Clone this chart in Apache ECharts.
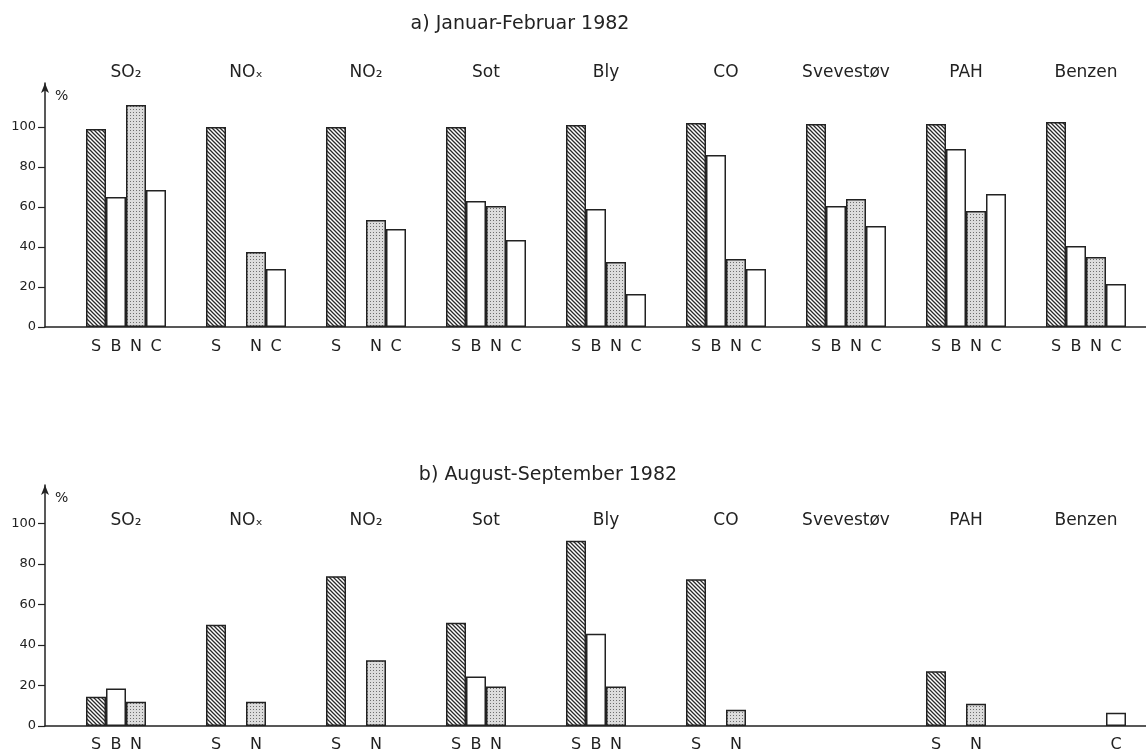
<!DOCTYPE html>
<html><head><meta charset="utf-8">
<script src="https://cdn.jsdelivr.net/npm/echarts@6/dist/echarts.min.js"></script>
<style>html,body{margin:0;padding:0;background:#fff}#c{width:1146px;height:751px}</style>
</head><body><div id="c"></div>
<script>
// ---- data ----
const categories = ['SO₂', 'NOₓ', 'NO₂', 'Sot', 'Bly', 'CO', 'Svevestøv', 'PAH', 'Benzen'];
const letters = ['S', 'B', 'N', 'C'];
const yTicks = [0, 20, 40, 60, 80, 100];
const titleA = 'a) Januar-Februar 1982';
const titleB = 'b) August-September 1982';

// a) Januar-Februar 1982
const aS = [99, 100, 100, 100, 101, 102, 101.5, 101.5, 102.5];
const aB = [65, null, null, 63, 59, 86, 60.5, 89, 40.5];
const aN = [111, 37.5, 53.5, 60.5, 32.5, 34, 64, 58, 35];
const aC = [68.5, 29, 49, 43.5, 16.5, 29, 50.5, 66.5, 21.5];

// b) August-September 1982
const bS = [14.5, 50, 74, 51, 91.5, 72.5, null, 27, null];
const bB = [18.5, null, null, 24.5, 45.5, null, null, null, null];
const bN = [12, 12, 32.5, 19.5, 19.5, 8, null, 11, null];
const bC = [null, null, null, null, null, null, null, null, 6.5];

// ---- patterns ----
function hatchPattern() {
  const c = document.createElement('canvas'); c.width = 4; c.height = 4;
  const g = c.getContext('2d');
  g.fillStyle = '#fff'; g.fillRect(0, 0, 4, 4);
  g.strokeStyle = '#2a2a2a'; g.lineWidth = 1.3;
  g.beginPath();
  g.moveTo(-1, -1); g.lineTo(5, 5);
  g.moveTo(-1, 3); g.lineTo(1, 5);
  g.moveTo(3, -1); g.lineTo(5, 1);
  g.stroke();
  return c;
}
function dotPattern() {
  const c = document.createElement('canvas'); c.width = 3; c.height = 3;
  const g = c.getContext('2d');
  g.fillStyle = '#dcdcdc'; g.fillRect(0, 0, 3, 3);
  g.fillStyle = '#6e6e6e'; g.fillRect(1, 1, 1, 1);
  return c;
}
const fills = [
  { image: hatchPattern(), repeat: 'repeat' },
  '#ffffff',
  { image: dotPattern(), repeat: 'repeat' },
  '#ffffff'
];

const ink = '#222';
const font = 'DejaVu Sans';

function mkSeries(dataArr, k, xi, yi, dist) {
  return {
    type: 'bar', xAxisIndex: xi, yAxisIndex: yi, data: dataArr,
    barWidth: 20, barGap: '0%',
    itemStyle: { color: fills[k], borderColor: ink, borderWidth: 1.5 },
    label: { show: true, position: 'bottom', distance: dist, formatter: letters[k],
             fontFamily: font, fontSize: 16, color: ink },
    emphasis: { disabled: true }, silent: true, animation: false
  };
}

function valueAxisShown(gi, max) {
  return {
    gridIndex: gi, type: 'value', min: 0, max: max,
    axisLine: { show: true, lineStyle: { color: ink, width: 1.5 }, symbol: ['none', 'arrow'], symbolSize: [6, 10] },
    axisTick: { show: true, length: 7, customValues: yTicks, lineStyle: { color: ink, width: 1.2 } },
    axisLabel: { show: true, customValues: yTicks, margin: 9, fontFamily: font, fontSize: 13, color: ink },
    splitLine: { show: false },
    name: '%', nameLocation: 'end', nameGap: -6,
    nameTextStyle: { fontFamily: font, fontSize: 14, color: ink, align: 'left', verticalAlign: 'top', padding: [0, 0, 0, 10] }
  };
}
function baselineAxis(gi) {
  return {
    gridIndex: gi, type: 'value', min: 0, max: 1,
    axisLine: { show: true, onZero: false, lineStyle: { color: ink, width: 1.5 } },
    axisTick: { show: false }, axisLabel: { show: false }, splitLine: { show: false }
  };
}
function nameAxis(gi, offset) {
  return {
    gridIndex: gi, type: 'category', data: categories, position: 'top', offset: offset,
    axisLine: { show: false }, axisTick: { show: false }, splitLine: { show: false },
    axisLabel: { show: true, interval: 0, margin: 2, fontFamily: font, fontSize: 17, color: ink }
  };
}

const option = {
  backgroundColor: '#fff',
  animation: false,
  title: [
    { text: titleA, left: 515, top: 10, textAlign: 'center', textStyle: { fontFamily: font, fontSize: 19, fontWeight: 'normal', color: ink } },
    { text: titleB, left: 543, top: 461, textAlign: 'center', textStyle: { fontFamily: font, fontSize: 19, fontWeight: 'normal', color: ink } }
  ],
  grid: [
    { left: 66, top: 83, width: 1100, height: 244 },
    { left: 45, top: 83, right: 0, height: 244 },
    { left: 66, top: 485, width: 1100, height: 241 },
    { left: 45, top: 485, right: 0, height: 241 }
  ],
  xAxis: [
    { gridIndex: 0, type: 'category', data: categories, show: false },
    nameAxis(0, 0),
    baselineAxis(1),
    { gridIndex: 2, type: 'category', data: categories, show: false },
    nameAxis(2, -46),
    baselineAxis(3)
  ],
  yAxis: [
    { gridIndex: 0, type: 'value', min: 0, max: 122, show: false },
    valueAxisShown(1, 122),
    { gridIndex: 2, type: 'value', min: 0, max: 119, show: false },
    valueAxisShown(3, 119)
  ],
  series: [
    mkSeries(aS, 0, 0, 0, 12), mkSeries(aB, 1, 0, 0, 12), mkSeries(aN, 2, 0, 0, 12), mkSeries(aC, 3, 0, 0, 12),
    mkSeries(bS, 0, 3, 2, 11), mkSeries(bB, 1, 3, 2, 11), mkSeries(bN, 2, 3, 2, 11), mkSeries(bC, 3, 3, 2, 11)
  ]
};

const chart = echarts.init(document.getElementById('c'), null, { renderer: 'canvas' });
chart.setOption(option);
</script>
</body></html>
